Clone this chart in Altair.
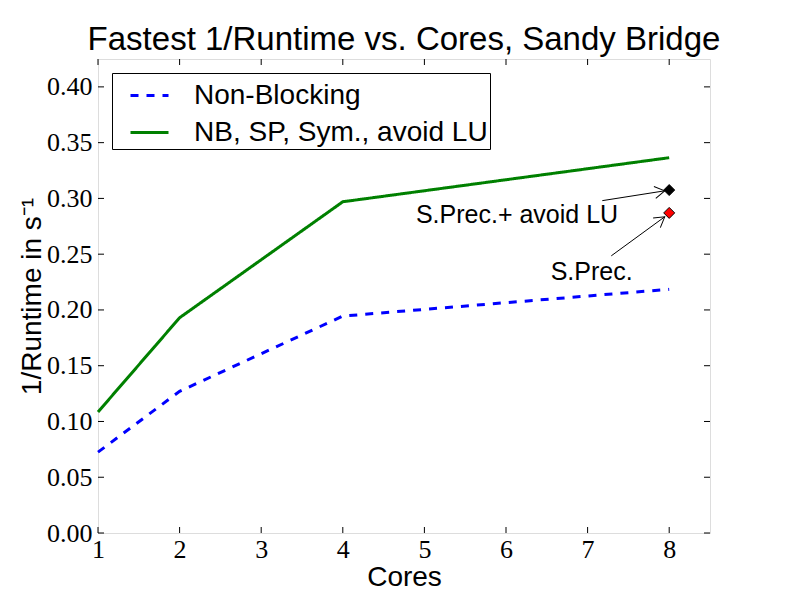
import altair as alt
import pandas as pd

# ---- data ----
cores = [1, 2, 4, 8]
non_blocking = [0.0725, 0.127, 0.1945, 0.2185]
nb_sp_sym = [0.1085, 0.193, 0.297, 0.3365]
series_names = ["Non-Blocking", "NB, SP, Sym., avoid LU"]

marker_labels = ["S.Prec.+ avoid LU", "S.Prec."]
marker_x = [8, 8]
marker_y = [0.3075, 0.287]
marker_colors = ["black", "red"]
text_x = [6.135, 7.05]
text_y = [0.2855, 0.234]
arrow_x = [7.18, 7.29]
arrow_y = [0.298, 0.2485]
arrow_tip_x = [7.945, 7.945]
arrow_tip_y = [0.3068, 0.2835]
arrow_angle = [351, 323]

x_ticks = [1, 2, 3, 4, 5, 6, 7, 8]
y_ticks = [0.0, 0.05, 0.10, 0.15, 0.20, 0.25, 0.30, 0.35, 0.40]

W, H = 612, 474
SANS = "Liberation Sans"
SERIF = "Liberation Serif"

lines_df = pd.DataFrame({
    "cores": cores * 2,
    "value": non_blocking + nb_sp_sym,
    "series": [series_names[0]] * len(cores) + [series_names[1]] * len(cores),
})
mark_df = pd.DataFrame({
    "label": marker_labels, "x": marker_x, "y": marker_y, "color": marker_colors,
    "tx": text_x, "ty": text_y, "ax": arrow_x, "ay": arrow_y,
    "hx": arrow_tip_x, "hy": arrow_tip_y, "angle": arrow_angle,
})
xt_df = pd.DataFrame({"t": x_ticks})
yt_df = pd.DataFrame({"t": y_ticks})

xscale = alt.Scale(domain=[1, 8.5], nice=False, zero=False)
yscale = alt.Scale(domain=[0, 0.425], nice=False, zero=False)

xaxis = alt.Axis(values=x_ticks, title="Cores", ticks=False, domain=False, grid=False,
                 format="d",
                 labelFont=SERIF, labelFontSize=26, labelPadding=3, labelColor="black",
                 titleFont=SANS, titleFontSize=28, titleFontWeight="normal",
                 titlePadding=1, titleColor="black", labelFlush=False)
yaxis = alt.Axis(values=y_ticks, title="1/Runtime in s\u207b\u00b9", ticks=False, domain=False,
                 grid=False, format=".2f",
                 labelFont=SERIF, labelFontSize=26, labelPadding=6, labelColor="black",
                 titleFont=SANS, titleFontSize=28, titleFontWeight="normal",
                 titlePadding=0, titleColor="black", labelFlush=False)

legend = alt.Legend(title=None, orient="none", legendX=14, legendY=14,
                    strokeColor="black", fillColor="white", padding=2,
                    labelFont=SANS, labelFontSize=28, labelColor="black", labelLimit=600,
                    symbolType="stroke", symbolSize=1444, symbolStrokeWidth=3,
                    symbolOffset=15, labelOffset=24, rowPadding=2, cornerRadius=0)

lines = alt.Chart(lines_df).mark_line(strokeWidth=3).encode(
    x=alt.X("cores:Q", scale=xscale, axis=xaxis),
    y=alt.Y("value:Q", scale=yscale, axis=yaxis),
    color=alt.Color("series:N", scale=alt.Scale(domain=series_names, range=["#0000ff", "#008000"]),
                    legend=legend),
    strokeDash=alt.StrokeDash("series:N", scale=alt.Scale(domain=series_names, range=[[8, 8], [1, 0]]),
                              legend=legend),
)

diamonds = alt.Chart(mark_df).mark_point(shape="diamond", filled=True, size=121,
                                         stroke="black", strokeWidth=1, opacity=1).encode(
    x=alt.X("x:Q", scale=xscale),
    y=alt.Y("y:Q", scale=yscale),
    fill=alt.Fill("color:N", scale=None),
)

arrows = alt.Chart(mark_df).mark_rule(color="black", strokeWidth=1).encode(
    x=alt.X("ax:Q", scale=xscale), y=alt.Y("ay:Q", scale=yscale),
    x2="hx:Q", y2="hy:Q",
)

heads = alt.Chart(mark_df).mark_point(shape="M -1 -0.6 L 0 0 L -1 0.6", filled=False,
                                      stroke="black", strokeWidth=1, size=400, opacity=1).encode(
    x=alt.X("hx:Q", scale=xscale), y=alt.Y("hy:Q", scale=yscale),
    angle=alt.Angle("angle:Q", scale=None),
)

texts = alt.Chart(mark_df).mark_text(font=SANS, fontSize=25, color="black",
                                     align="center", baseline="middle").encode(
    x=alt.X("tx:Q", scale=xscale), y=alt.Y("ty:Q", scale=yscale), text="label:N",
)

tick_len = 6
xb = alt.Chart(xt_df).mark_rule(color="black", strokeWidth=1).encode(
    x=alt.X("t:Q", scale=xscale), y=alt.value(H), y2=alt.value(H - tick_len))
xtop = alt.Chart(xt_df).mark_rule(color="black", strokeWidth=1).encode(
    x=alt.X("t:Q", scale=xscale), y=alt.value(0), y2=alt.value(tick_len))
yl = alt.Chart(yt_df).mark_rule(color="black", strokeWidth=1).encode(
    y=alt.Y("t:Q", scale=yscale), x=alt.value(0), x2=alt.value(tick_len))
yr = alt.Chart(yt_df).mark_rule(color="black", strokeWidth=1).encode(
    y=alt.Y("t:Q", scale=yscale), x=alt.value(W), x2=alt.value(W - tick_len))

chart = alt.layer(lines, arrows, heads, diamonds, texts, xb, xtop, yl, yr).properties(
    width=W, height=H,
    title=alt.TitleParams("Fastest 1/Runtime vs. Cores, Sandy Bridge", font=SANS, fontSize=33,
                          fontWeight="normal", color="black", anchor="middle",
                          offset=2, frame="group"),
    autosize=alt.AutoSizeParams(type="none"),
    padding={"left": 90, "top": 51, "right": 70, "bottom": 66},
).configure_view(stroke="black", strokeWidth=1).configure(background="white")

chart.save("out.html", embed_options={"renderer": "svg", "actions": False})
